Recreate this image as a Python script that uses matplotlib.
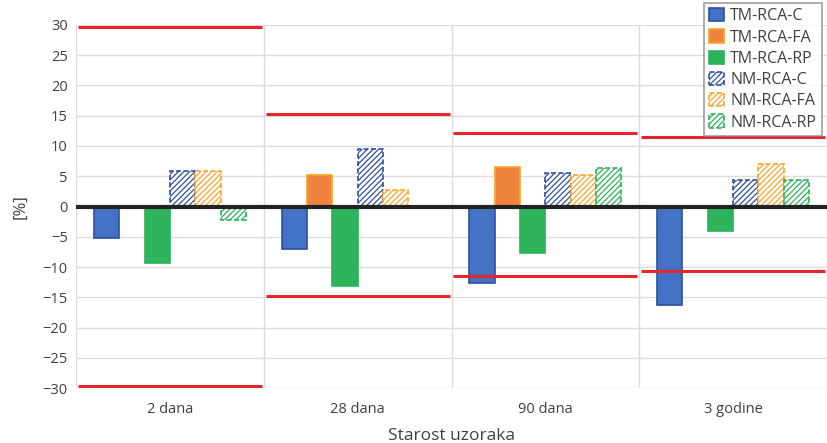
import matplotlib.pyplot as plt
import numpy as np

plt.rcParams['font.family'] = ['Open Sans', 'DejaVu Sans']
plt.rcParams['hatch.linewidth'] = 0.9

# data
groups = ['2 dana', '28 dana', '90 dana', '3 godine']
series = ['TM-RCA-C', 'TM-RCA-FA', 'TM-RCA-RP', 'NM-RCA-C', 'NM-RCA-FA', 'NM-RCA-RP']
tm_c = [-5.2, -7.0, -12.7, -16.2]
tm_fa = [0.0, 5.2, 6.5, 0.0]
tm_rp = [-9.4, -13.1, -7.6, -4.0]
nm_c = [5.8, 9.5, 5.5, 4.3]
nm_fa = [5.8, 2.8, 5.2, 7.0]
nm_rp = [-2.3, -0.3, 6.4, 4.4]
limit_up = [29.7, 15.3, 12.1, 11.4]
limit_down = [-29.7, -14.8, -11.4, -10.7]

values = [tm_c, tm_fa, tm_rp, nm_c, nm_fa, nm_rp]
face = ['#4472C4', '#F0843C', '#2DB35B', 'white', 'white', 'white']
edge = ['#2F4FA0', '#FFA229', '#2DB35B', '#2F4FA0', '#FFA229', '#2DB35B']
hatch = [None, None, None, '//////', '//////', '//////']
ls = ['-', '-', '-', (0, (3, 1.5)), (0, (3, 1.5)), (0, (3, 1.5))]

fig = plt.figure(figsize=(8.27, 4.43), dpi=100)
ax = fig.add_axes([0.092, 0.1235, 0.908, 0.8205])

x = np.arange(len(groups))
w = 0.135
for i in range(6):
    ax.bar(x + (i - 2.5) * w, values[i], w, color=face[i], edgecolor=edge[i],
           hatch=hatch[i], linestyle=ls[i], linewidth=1.2, label=series[i], zorder=3)

for i in range(len(groups)):
    ax.hlines([limit_up[i], limit_down[i]], i - 0.49, i + 0.49, color='#E8252A', lw=2.2, zorder=4)

ax.axhline(0, color='#222222', lw=3, zorder=5)

ax.set_xlim(-0.5, 3.5)
ax.set_ylim(-30, 30)
ax.set_yticks(np.arange(-30, 31, 5))
ax.set_xticks(x)
ax.set_xticklabels(groups)
ax.set_xticks(np.arange(-0.5, 4, 1), minor=True)
ax.grid(axis='y', color='#DDDDDD', lw=1, zorder=0)
ax.grid(axis='x', which='minor', color='#DDDDDD', lw=1, zorder=0)
ax.tick_params(which='both', length=0, labelsize=10.5, colors='#404040')
ax.tick_params(axis='x', pad=10)
ax.tick_params(axis='y', pad=6)
for s in ax.spines.values():
    s.set_visible(False)

ax.set_xlabel('Starost uzoraka', fontsize=12.5, color='#404040', labelpad=8)
ax.set_ylabel('[%]', fontsize=12, color='#404040', labelpad=10)

leg = ax.legend(loc='upper right', fontsize=11.5, frameon=True, fancybox=False,
                edgecolor='#888888', borderpad=0.35, labelspacing=0.32,
                handlelength=0.9, handleheight=0.9, handletextpad=0.4,
                bbox_to_anchor=(0.997, 1.07), borderaxespad=0.2)
leg.get_frame().set_linewidth(1.2)
for t in leg.get_texts():
    t.set_color('#404040')

fig.savefig('out.png', dpi=100)
